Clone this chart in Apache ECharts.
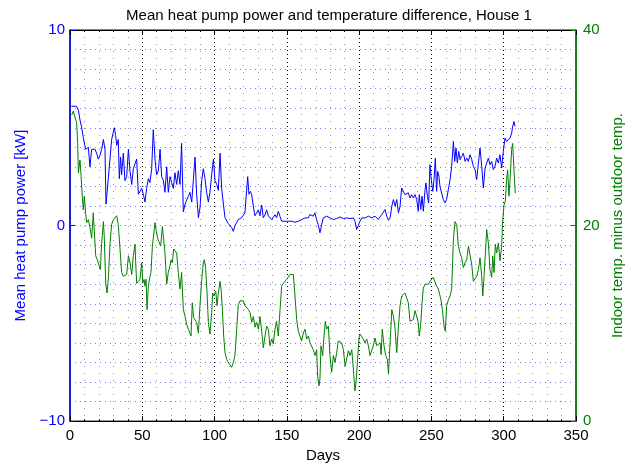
<!DOCTYPE html>
<html lang="en">
<head>
    <meta charset="utf-8" />
    <title>Mean heat pump power and temperature difference, House 1</title>
    <script type="text/javascript" src="https://cdn.jsdelivr.net/npm/echarts@6/dist/echarts.min.js"></script>
    <style type="text/css">
        body { margin: 0; background: #fff; }
    </style>
</head>
<body>

    <div id="main" style="width:636px;height:468px;"></div>

    <script type="text/javascript">

        // blue curve: mean heat pump power [kW], left axis
        var powerDays = [
            1, 4.6, 5.8, 6.9, 8.1, 9.2, 9.9, 10.8, 11.5, 12.7,
            13.8, 15.0, 16.1, 17.3, 18.4, 19.6, 20.8, 21.9, 23.1, 24.2,
            24.9, 26.5, 28.8, 30.7, 31.6, 32.3, 33.4, 34.1, 35.0, 35.7,
            36.9, 38.0, 39.2, 40.4, 41.5, 42.7, 43.8, 45.0, 46.1, 47.3,
            48.4, 49.6, 50.7, 51.9, 53.0, 54.2, 55.3, 56.5, 57.6, 58.8,
            59.9, 61.1, 62.3, 63.4, 64.6, 65.7, 66.9, 68.0, 69.2, 70.3,
            71.5, 72.6, 73.8, 74.9, 76.1, 77.2, 78.4, 79.6, 80.7, 81.9,
            83.0, 84.2, 85.3, 86.5, 87.6, 88.8, 89.9, 91.1, 92.2, 93.4,
            94.5, 95.7, 96.8, 98.0, 99.2, 100.3, 101.5, 102.6, 103.8, 104.9,
            106.1, 107.2, 109.5, 111.8, 113.0, 114.1, 116.4, 118.7, 121.0, 122.2,
            122.9, 123.8, 124.7, 125.6, 126.8, 127.9, 129.1, 130.3, 131.4, 132.6,
            133.7, 134.9, 136.0, 137.2, 138.3, 139.5, 140.6, 141.8, 142.9, 144.1,
            145.2, 146.4, 148.7, 151.0, 153.3, 155.6, 157.9, 160.2, 161.3, 162.5,
            163.6, 164.8, 165.9, 167.1, 168.3, 169.4, 170.6, 171.7, 172.9, 174.1,
            175.2, 177.5, 179.8, 182.2, 184.5, 186.8, 189.1, 191.4, 193.7, 196.0,
            197.1, 198.3, 199.4, 200.6, 201.8, 204.1, 206.4, 208.7, 211.0, 212.2,
            213.3, 214.5, 215.6, 216.8, 217.9, 219.1, 220.3, 221.4, 222.6, 223.7,
            224.9, 226.0, 227.2, 228.3, 229.4, 230.6, 231.7, 232.9, 234.0, 235.2,
            236.3, 237.5, 238.7, 239.8, 240.9, 241.6, 242.6, 243.5, 244.4, 245.6,
            246.2, 247.2, 248.1, 249.0, 249.9, 250.9, 251.8, 252.7, 253.6, 254.3,
            255.2, 255.9, 257.1, 258.2, 259.4, 260.5, 261.7, 262.9, 264.0, 265.2,
            266.1, 267.0, 267.9, 268.9, 269.8, 271.0, 272.1, 273.3, 274.4, 275.5,
            276.7, 277.9, 279.0, 280.2, 281.3, 282.5, 283.6, 284.8, 285.9, 287.1,
            288.2, 289.4, 290.5, 291.7, 292.8, 294.0, 295.1, 296.3, 297.4, 298.6,
            299.7, 300.9, 302.0, 303.2, 304.4, 305.5, 306.2, 307.1, 307.8
        ];
        var powerKW = [
            6.1, 6.1, 5.9, 5.4, 5.0, 4.5, 4.6, 3.9, 4.0, 4.0,
            3.0, 3.9, 4.0, 3.9, 3.7, 3.4, 3.6, 3.9, 4.4, 3.9,
            1.1, 2.4, 4.4, 5.0, 4.6, 4.1, 4.4, 2.4, 3.5, 2.6,
            3.7, 2.3, 2.5, 3.9, 2.8, 2.1, 2.9, 2.8, 3.4, 1.6,
            1.7, 1.9, 1.6, 1.2, 1.9, 2.4, 2.2, 2.9, 4.9, 3.4,
            2.6, 2.8, 3.9, 2.5, 2.3, 1.7, 3.0, 1.7, 2.5, 2.2,
            1.9, 2.7, 2.1, 2.8, 2.1, 4.2, 0.7, 1.1, 1.3, 1.5,
            1.7, 1.2, 2.3, 3.5, 1.6, 0.4, 0.9, 2.3, 2.9, 2.4,
            1.7, 1.2, 1.7, 2.6, 3.4, 2.3, 2.1, 1.8, 3.7, 1.9,
            1.1, 0.4, 0.1, -0.1, -0.3, 0.0, 0.3, 0.4, 0.65, 0.55,
            2.5, 1.6, 1.75, 1.6, 1.0, 0.5, 0.55, 0.8, 0.5, 1.05,
            0.4, 0.55, 0.8, 0.5, 0.4, 0.3, 0.4, 0.55, 0.4, 0.73,
            0.48, 0.22, 0.22, 0.22, 0.22, 0.17, 0.22, 0.3, 0.22, 0.39,
            0.48, 0.39, 0.56, 0.56, 0.48, 0.65, 0.3, 0.05, -0.37, 0.05,
            0.39, 0.48, 0.39, 0.31, 0.36, 0.44, 0.36, 0.39, 0.36, 0.39,
            0.22, -0.2, -0.29, 0.22, 0.39, 0.39, 0.48, 0.39, 0.48, 0.56,
            0.31, 0.44, 0.56, 0.65, 0.82, 0.48, 0.27, 0.39, 0.99, 1.33,
            0.99, 1.33, 0.65, 0.99, 1.92, 1.75, 1.58, 1.58, 1.67, 1.41,
            1.58, 1.41, 1.58, 1.33, 0.73, 1.58, 0.82, 1.5, 0.73, 1.84,
            2.18, 1.5, 1.16, 3.11, 2.35, 1.75, 2.35, 3.45, 1.75, 2.77,
            2.52, 2.0, 2.09, 1.33, 1.16, 1.33, 1.84, 2.35, 3.03, 4.3,
            3.28, 3.96, 3.2, 3.79, 3.37, 3.54, 3.7, 3.28, 3.45, 3.28,
            3.62, 3.37, 3.03, 2.86, 2.35, 3.2, 3.96, 3.03, 1.92, 2.94,
            2.86, 3.45, 3.11, 3.28, 2.86, 3.03, 3.45, 3.2, 3.62, 2.94,
            3.79, 4.47, 4.3, 4.3, 4.47, 4.73, 5.07, 5.32, 5.07
        ];

        // green curve: indoor temp. minus outdoor temp., right axis
        var tempDays = [
            1.2, 2.3, 3.5, 4.6, 5.3, 5.8, 6.9, 7.6, 8.5, 9.2,
            9.9, 10.8, 11.5, 12.7, 13.8, 15.0, 16.1, 16.8, 17.8, 18.9,
            20.1, 21.0, 21.9, 23.1, 23.7, 24.7, 25.6, 26.5, 27.7, 28.8,
            30.0, 31.1, 32.3, 33.4, 34.6, 35.7, 36.9, 38.0, 39.2, 40.4,
            41.5, 42.7, 43.8, 45.0, 45.4, 46.1, 47.3, 48.4, 49.6, 50.3,
            51.2, 51.9, 52.6, 53.3, 54.2, 55.3, 56.0, 57.0, 57.6, 58.8,
            59.5, 60.6, 61.6, 62.7, 63.9, 64.8, 65.7, 66.9, 68.0, 69.2,
            69.9, 70.8, 71.7, 72.6, 73.8, 74.9, 76.1, 77.2, 78.4, 79.6,
            80.7, 81.9, 83.0, 83.7, 84.6, 85.5, 86.5, 87.6, 88.8, 89.9,
            91.1, 92.2, 92.9, 93.8, 94.8, 95.7, 96.8, 98.0, 98.7, 99.6,
            100.8, 101.7, 102.6, 103.8, 104.5, 105.4, 106.3, 107.2, 108.4, 109.5,
            110.7, 111.8, 113.0, 114.1, 115.3, 116.4, 117.6, 118.7, 119.9, 121.1,
            122.2, 123.4, 124.5, 125.7, 126.8, 128.0, 129.1, 130.3, 131.4, 132.6,
            133.7, 134.9, 136.0, 137.2, 138.3, 139.5, 140.6, 141.8, 142.9, 144.1,
            145.3, 146.4, 147.6, 148.7, 149.9, 151.0, 152.2, 153.3, 154.5, 155.6,
            156.8, 157.9, 159.1, 160.2, 161.4, 162.6, 163.7, 164.9, 166.0, 167.2,
            168.3, 169.5, 170.6, 171.3, 172.2, 172.9, 173.6, 174.8, 175.7, 176.6,
            177.5, 178.7, 179.8, 181.0, 182.2, 183.3, 184.5, 185.6, 186.8, 187.9,
            189.1, 190.3, 191.4, 192.6, 193.7, 194.9, 196.0, 197.1, 197.8, 198.8,
            199.9, 200.6, 201.8, 202.9, 204.1, 205.2, 206.4, 207.5, 208.7, 209.8,
            211.0, 212.2, 213.3, 214.5, 215.2, 216.0, 217.2, 218.4, 219.5, 220.3,
            221.4, 222.6, 223.7, 224.9, 226.0, 227.2, 228.3, 229.4, 230.6, 231.7,
            232.9, 234.0, 235.2, 236.3, 237.5, 238.7, 239.8, 240.9, 241.6, 242.6,
            243.5, 244.4, 245.6, 246.7, 247.9, 249.0, 250.2, 251.3, 252.5, 253.6,
            254.8, 255.9, 256.6, 257.6, 258.7, 259.6, 260.5, 261.7, 262.9, 264.0,
            265.2, 266.3, 267.5, 268.6, 269.8, 270.9, 272.1, 273.3, 274.4, 275.6,
            276.7, 277.9, 279.0, 280.2, 281.3, 282.5, 283.6, 284.8, 285.5, 286.4,
            287.5, 288.2, 289.4, 290.5, 291.7, 292.4, 293.3, 294.2, 295.1, 296.3,
            297.4, 298.6, 299.2, 300.2, 301.1, 302.0, 302.7, 303.6, 304.4, 305.5,
            306.2, 307.1, 308.0
        ];
        var tempDiff = [
            31.3, 31.7, 31.5, 30.5, 28.4, 25.4, 26.7, 25.2, 23.0, 21.6,
            23.0, 21.3, 20.3, 20.6, 19.8, 18.7, 21.3, 21.1, 16.9, 16.5,
            15.9, 15.5, 18.2, 20.4, 18.9, 14.1, 13.1, 14.5, 18.2, 20.1,
            20.6, 20.8, 21.0, 20.1, 17.6, 15.2, 14.8, 14.8, 15.0, 16.9,
            16.2, 15.0, 16.9, 18.1, 16.4, 14.1, 14.1, 14.5, 16.2, 14.1,
            14.5, 13.8, 14.5, 11.4, 13.8, 14.8, 15.2, 17.9, 17.9, 20.3,
            19.6, 18.7, 18.9, 17.9, 19.9, 19.9, 17.2, 14.0, 15.2, 15.9,
            16.5, 16.2, 17.6, 17.7, 17.2, 15.2, 13.5, 15.2, 11.4, 10.7,
            9.9, 9.4, 9.2, 8.7, 12.1, 10.6, 10.6, 10.1, 9.0, 11.8,
            14.5, 16.2, 16.5, 15.7, 13.1, 10.1, 8.9, 11.1, 13.1, 12.8,
            13.3, 11.8, 13.1, 14.3, 13.5, 11.4, 8.7, 7.0, 6.3, 6.0,
            6.0, 5.5, 6.0, 6.7, 9.4, 11.9, 12.3, 12.1, 12.3, 11.8,
            11.9, 11.4, 11.1, 10.1, 10.7, 9.6, 10.1, 9.4, 10.7, 9.2,
            7.5, 8.7, 9.7, 9.4, 7.7, 8.4, 7.9, 9.4, 10.2, 8.7,
            11.4, 13.8, 14.1, 14.3, 14.5, 14.5, 15.0, 15.2, 15.0, 15.2,
            10.4, 9.2, 9.2, 8.2, 9.0, 9.4, 8.4, 8.7, 8.0, 7.8,
            7.3, 6.7, 7.3, 4.6, 3.6, 4.3, 7.7, 6.7, 8.7, 10.2,
            9.4, 9.7, 6.7, 5.0, 6.7, 6.0, 7.0, 8.2, 8.4, 8.0,
            7.3, 5.6, 5.5, 7.2, 6.7, 7.3, 5.3, 3.1, 3.9, 6.0,
            8.5, 8.9, 8.7, 8.4, 8.0, 8.4, 7.7, 6.7, 6.5, 7.7,
            8.5, 7.7, 7.5, 8.0, 6.8, 9.4, 7.7, 6.7, 6.3, 4.8,
            8.0, 11.4, 10.7, 9.4, 7.0, 9.7, 11.8, 12.8, 13.0, 13.1,
            13.3, 12.1, 10.2, 10.1, 10.4, 11.3, 11.3, 10.1, 8.7, 9.9,
            12.1, 13.6, 14.0, 13.8, 14.0, 14.3, 14.5, 14.7, 14.8, 13.8,
            13.5, 13.5, 12.4, 11.4, 9.7, 9.2, 11.8, 12.4, 12.8, 13.5,
            18.6, 20.4, 20.1, 17.9, 17.2, 16.7, 15.7, 16.2, 16.5, 17.9,
            18.1, 16.0, 14.3, 14.1, 14.8, 15.5, 16.7, 14.8, 12.8, 14.8,
            17.6, 19.6, 18.2, 15.5, 14.7, 16.9, 15.2, 18.1, 17.2, 18.2,
            16.4, 17.9, 20.3, 22.1, 22.5, 24.7, 25.7, 23.0, 24.7, 27.8,
            28.4, 25.7, 23.3
        ];

        var font = 'Liberation Sans, Arial, Helvetica, sans-serif';

        function pairs(xs, ys) {
            var out = [];
            for (var i = 0; i < xs.length; i++) {
                out.push([xs[i], ys[i]]);
            }
            return out;
        }

        function minusSign(v) {
            return String(v).replace('-', '\u2212');
        }

        var myChart = echarts.init(document.getElementById('main'), null, { renderer: 'canvas' });

        var option = {
            backgroundColor: '#fff',
            animation: false,
            title: {
                text: 'Mean heat pump power and temperature difference, House 1',
                left: 324,
                textAlign: 'center',
                top: 3,
                textStyle: { color: '#000', fontSize: 15, fontWeight: 'normal', fontFamily: font }
            },
            grid: {
                left: 70,
                right: 60,
                top: 30,
                bottom: 46,
                show: true,
                borderColor: '#000',
                borderWidth: 1
            },
            xAxis: [{
                type: 'value',
                min: 0,
                max: 350,
                interval: 50,
                position: 'bottom',
                name: 'Days',
                nameLocation: 'middle',
                nameGap: 25,
                nameTextStyle: { color: '#000', fontSize: 15, fontFamily: font },
                axisLine: { show: true, onZero: false, lineStyle: { color: '#000', width: 1 } },
                axisTick: { show: true, inside: true, length: 5, lineStyle: { color: '#000' } },
                minorTick: { show: true, splitNumber: 5, length: 2, lineStyle: { color: '#000' } },
                axisLabel: { color: '#000', fontSize: 15, fontFamily: font, margin: 7 },
                splitLine: { show: true, lineStyle: { color: '#000', width: 1, type: [1, 3] } },
                minorSplitLine: { show: true, lineStyle: { color: '#999', width: 1, type: [1, 6] } }
            }, {
                type: 'value',
                min: 0,
                max: 350,
                interval: 50,
                position: 'top',
                axisLine: { show: true, onZero: false, lineStyle: { color: '#000', width: 1 } },
                axisTick: { show: true, inside: true, length: 5, lineStyle: { color: '#000' } },
                minorTick: { show: true, splitNumber: 5, length: 2, lineStyle: { color: '#000' } },
                axisLabel: { show: false },
                splitLine: { show: false }
            }],
            yAxis: [{
                type: 'value',
                min: -10,
                max: 10,
                interval: 10,
                position: 'left',
                name: 'Mean heat pump power [kW]',
                nameLocation: 'middle',
                nameGap: 42,
                nameRotate: 90,
                nameTextStyle: { color: '#0000ff', fontSize: 15, fontFamily: font },
                axisLine: { show: true, onZero: false, lineStyle: { color: '#0000ff', width: 1.5 } },
                axisTick: { show: true, inside: true, length: 5, lineStyle: { color: '#0000ff' } },
                axisLabel: { color: '#0000ff', fontSize: 15, fontFamily: font, margin: 5, formatter: minusSign },
                splitLine: { show: true, lineStyle: { color: '#7a7aff', width: 1, type: [1, 4] } },
                minorTick: { show: false, splitNumber: 10 },
                minorSplitLine: { show: true, lineStyle: { color: '#7a7aff', width: 1, type: [1, 4] } }
            }, {
                type: 'value',
                min: 0,
                max: 40,
                interval: 20,
                position: 'right',
                name: 'Indoor temp. minus outdoor temp.',
                nameLocation: 'middle',
                nameGap: 32,
                nameRotate: 90,
                nameTextStyle: { color: '#008000', fontSize: 15, fontFamily: font },
                axisLine: { show: true, onZero: false, lineStyle: { color: '#008000', width: 1.5 } },
                axisTick: { show: true, inside: true, length: 5, lineStyle: { color: '#008000' } },
                axisLabel: { color: '#008000', fontSize: 15, fontFamily: font, margin: 7 },
                splitLine: { show: false }
            }],
            series: [{
                name: 'Mean heat pump power',
                type: 'line',
                xAxisIndex: 0,
                yAxisIndex: 0,
                showSymbol: false,
                lineStyle: { color: '#0000ff', width: 1 },
                data: pairs(powerDays, powerKW)
            }, {
                name: 'Indoor temp. minus outdoor temp.',
                type: 'line',
                xAxisIndex: 0,
                yAxisIndex: 1,
                showSymbol: false,
                lineStyle: { color: '#008000', width: 1 },
                data: pairs(tempDays, tempDiff)
            }]
        };
        myChart.setOption(option, true);
    </script>
</body>
</html>
